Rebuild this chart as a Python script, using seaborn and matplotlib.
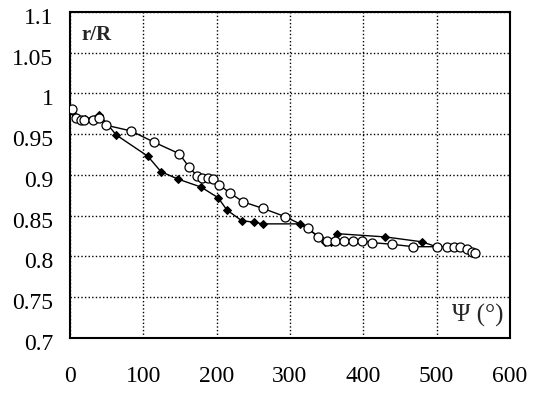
import matplotlib
matplotlib.use("Agg")
import matplotlib.pyplot as plt
import matplotlib.transforms as mtransforms
import seaborn as sns
import pandas as pd

# Open-circle series: r/R against swirl angle
psi_open = [3, 8, 15, 19, 31, 40, 49, 83, 115, 149, 162, 173, 180, 188, 195, 203,
            218, 236, 263, 293, 325, 338, 350, 362, 374, 386, 398, 412, 439, 468,
            500, 514, 524, 532, 541, 548, 552]
r_open = [0.981, 0.970, 0.967, 0.967, 0.967, 0.970, 0.961, 0.954, 0.940, 0.926,
          0.910, 0.899, 0.896, 0.896, 0.895, 0.888, 0.878, 0.867, 0.859, 0.849,
          0.835, 0.824, 0.819, 0.819, 0.819, 0.819, 0.819, 0.817, 0.815, 0.812,
          0.812, 0.812, 0.812, 0.812, 0.809, 0.806, 0.804]

# Filled-diamond series
psi_fill = [3, 20, 40, 63, 106, 124, 147, 179, 202, 214, 234, 251, 263, 314,
            340, 348, 356, 364, 430, 480, 500]
r_fill = [0.978, 0.968, 0.974, 0.949, 0.923, 0.904, 0.895, 0.885, 0.872, 0.857,
          0.844, 0.842, 0.840, 0.840, 0.824, 0.818, 0.818, 0.828, 0.824, 0.818,
          0.812]

x_ticks = [0, 100, 200, 300, 400, 500, 600]
y_ticks = [0.7, 0.75, 0.8, 0.85, 0.9, 0.95, 1.0, 1.05, 1.1]
y_ticklabels = ["0.7", "0.75", "0.8", "0.85", "0.9", "0.95", "1", "1.05", "1.1"]

sns.set_style("white")
plt.rcParams["font.family"] = ["Liberation Serif", "DejaVu Serif"]

fig = plt.figure(figsize=(5.39, 3.94), dpi=100)
ax = fig.add_axes([0.130, 0.142, 0.816, 0.828])

df_open = pd.DataFrame({"psi": psi_open, "r": r_open})
df_fill = pd.DataFrame({"psi": psi_fill, "r": r_fill})

sns.lineplot(data=df_fill, x="psi", y="r", sort=False, estimator=None, ax=ax,
             color="black", linewidth=1.0, marker="D", markersize=4.5,
             markerfacecolor="black", markeredgecolor="black", zorder=3)
sns.lineplot(data=df_open, x="psi", y="r", sort=False, estimator=None, ax=ax,
             color="black", linewidth=1.0, marker="o", markersize=6.5,
             markerfacecolor="white", markeredgecolor="black",
             markeredgewidth=0.9, zorder=4)

ax.set_xlim(0, 600)
ax.set_ylim(0.7, 1.1)
ax.set_xticks(x_ticks)
ax.set_yticks(y_ticks)
ax.set_yticklabels(y_ticklabels)
ax.set_xlabel("")
ax.set_ylabel("")

ax.grid(True, color="black", linestyle=(0, (1.0, 1.6)), linewidth=1.0)
ax.set_axisbelow(True)
for sp in ax.spines.values():
    sp.set_color("black")
    sp.set_linewidth(1.5)

ax.tick_params(axis="both", direction="in", length=5, width=1.2, colors="black",
               labelsize=17)
ax.tick_params(axis="x", pad=20)
ax.tick_params(axis="y", pad=12)

# nudge y tick labels slightly downward
offset = mtransforms.ScaledTranslation(0, -4 / 100, fig.dpi_scale_trans)
for lab in ax.get_yticklabels():
    lab.set_transform(lab.get_transform() + offset)

ax.text(0.027, 0.915, "r/R", transform=ax.transAxes, fontsize=15,
        fontweight="bold", ha="left", va="baseline")
ax.text(0.985, 0.035, "\u03a8 (\u00b0)", transform=ax.transAxes, fontsize=18,
        ha="right", va="bottom")

fig.savefig("out.png", dpi=100)
